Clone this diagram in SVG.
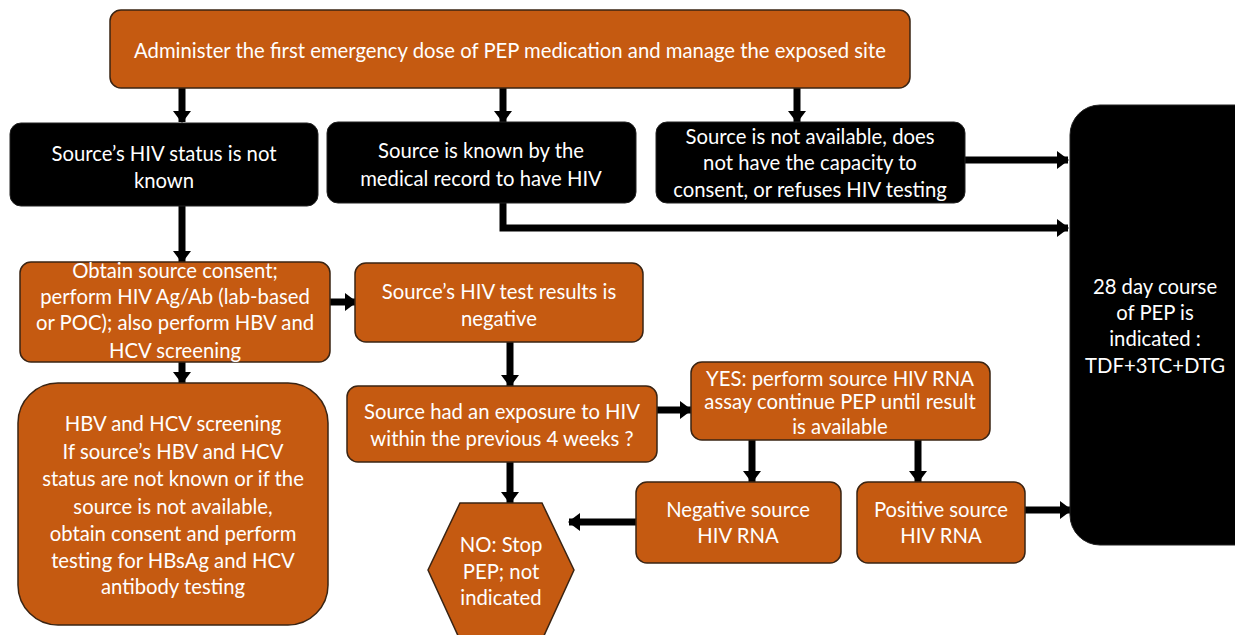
<svg xmlns="http://www.w3.org/2000/svg" width="1235" height="635" viewBox="0 0 1235 635">
  <style>
    .org { fill: #C55A11; stroke: #3a2413; stroke-width: 1.5; }
    .blk { fill: #000000; stroke: #222222; stroke-width: 1; }
    text { font-family: "Lato", "Open Sans", "Liberation Sans", sans-serif; font-size: 20.3px; fill: #ffffff; text-anchor: middle; }
    .conn { stroke: #000000; stroke-width: 7; fill: none; marker-end: url(#head); }
  </style>
  <defs>
    <marker id="head" markerUnits="userSpaceOnUse" markerWidth="12" markerHeight="18" refX="11" refY="9" orient="auto">
      <path d="M0,0 L12,9 L0,18 Z" fill="#000000"/>
    </marker>
  </defs>
  <rect width="1235" height="635" fill="#ffffff"/>

  <!-- connectors -->
  <g id="connectors">
    <line class="conn" x1="182" y1="88" x2="182" y2="122"/>
    <line class="conn" x1="503" y1="88" x2="503" y2="122"/>
    <line class="conn" x1="797" y1="88" x2="797" y2="122"/>
    <line class="conn" x1="965" y1="160" x2="1068" y2="160"/>
    <path class="conn" d="M503,203 V228 H1068"/>
    <line class="conn" x1="182" y1="206" x2="182" y2="262"/>
    <line class="conn" x1="330" y1="302" x2="356" y2="302"/>
    <line class="conn" x1="510" y1="342" x2="510" y2="386"/>
    <line class="conn" x1="182" y1="362" x2="182" y2="383"/>
    <line class="conn" x1="657" y1="410" x2="691" y2="410"/>
    <line class="conn" x1="752" y1="440" x2="752" y2="482"/>
    <line class="conn" x1="918" y1="440" x2="918" y2="482"/>
    <line class="conn" x1="1025" y1="510" x2="1071" y2="510"/>
    <line class="conn" x1="636" y1="522" x2="569" y2="522"/>
    <line class="conn" x1="510" y1="462" x2="510" y2="503"/>
  </g>

  <g id="n-administer">
    <rect class="org" x="110" y="10" width="800" height="78" rx="11"/>
    <text x="510" y="58">Administer the first emergency dose of PEP medication and manage the exposed site</text>
  </g>

  <g id="n-status-unknown">
    <rect class="blk" x="10" y="123" width="308" height="83" rx="11"/>
    <text x="164" y="161">Source’s HIV status is not</text>
    <text x="164" y="188">known</text>
  </g>

  <g id="n-known-hiv">
    <rect class="blk" x="327" y="122" width="309" height="81" rx="11"/>
    <text x="481" y="158">Source is known by the</text>
    <text x="481" y="186">medical record to have HIV</text>
  </g>

  <g id="n-not-available">
    <rect class="blk" x="656" y="122" width="309" height="81" rx="11"/>
    <text x="810" y="144">Source is not available, does</text>
    <text x="810" y="170">not have the capacity to</text>
    <text x="810" y="197">consent, or refuses HIV testing</text>
  </g>

  <g id="n-pep-course">
    <rect class="blk" x="1070" y="105" width="200" height="440" rx="30"/>
    <text x="1155" y="294">28 day course</text>
    <text x="1155" y="320">of PEP is</text>
    <text x="1155" y="346">indicated :</text>
    <text x="1155" y="373">TDF+3TC+DTG</text>
  </g>

  <g id="n-obtain-consent">
    <rect class="org" x="20" y="262" width="310" height="100" rx="11"/>
    <text x="175" y="278">Obtain source consent;</text>
    <text x="175" y="304">perform HIV Ag/Ab (lab-based</text>
    <text x="175" y="330">or POC); also perform HBV and</text>
    <text x="175" y="358">HCV screening</text>
  </g>

  <g id="n-test-negative">
    <rect class="org" x="355" y="263" width="288" height="79" rx="11"/>
    <text x="499" y="299">Source’s HIV test results is</text>
    <text x="499" y="326">negative</text>
  </g>

  <g id="n-hbv-hcv">
    <rect class="org" x="18" y="383" width="310" height="242" rx="40"/>
    <text x="173" y="431">HBV and HCV screening</text>
    <text x="173" y="459">If source’s HBV and HCV</text>
    <text x="173" y="486">status are not known or if the</text>
    <text x="173" y="514">source is not available,</text>
    <text x="173" y="541">obtain consent and perform</text>
    <text x="173" y="568">testing for HBsAg and HCV</text>
    <text x="173" y="594">antibody testing</text>
  </g>

  <g id="n-exposure">
    <rect class="org" x="347" y="386" width="310" height="76" rx="11"/>
    <text x="502" y="419">Source had an exposure to HIV</text>
    <text x="502" y="446">within the previous 4 weeks ?</text>
  </g>

  <g id="n-yes-rna">
    <rect class="org" x="691" y="362" width="299" height="78" rx="11"/>
    <text x="840" y="386">YES: perform source HIV RNA</text>
    <text x="840" y="409">assay continue PEP until result</text>
    <text x="840" y="434">is available</text>
  </g>

  <g id="n-negative-rna">
    <rect class="org" x="636" y="482" width="205" height="81" rx="11"/>
    <text x="738" y="517">Negative source</text>
    <text x="738" y="543">HIV RNA</text>
  </g>

  <g id="n-positive-rna">
    <rect class="org" x="857" y="482" width="168" height="81" rx="11"/>
    <text x="941" y="517">Positive source</text>
    <text x="941" y="543">HIV RNA</text>
  </g>

  <g id="n-stop-pep">
    <polygon class="org" points="460,503 542,503 574,570 542,640 460,640 428,570"/>
    <text x="501" y="552">NO: Stop</text>
    <text x="501" y="579">PEP; not</text>
    <text x="501" y="605">indicated</text>
  </g>
</svg>
